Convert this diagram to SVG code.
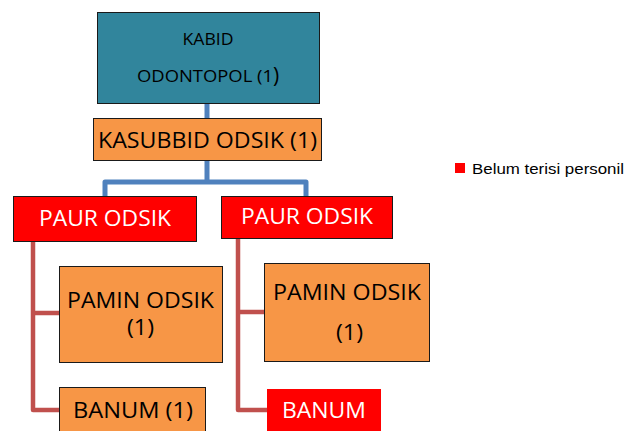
<svg xmlns="http://www.w3.org/2000/svg" width="628" height="431" viewBox="0 0 628 431">
  <style>
    .box { stroke: #1a1a1a; stroke-width: 1; }
    .teal { fill: #31859C; }
    .orange { fill: #F79646; }
    .red { fill: #FF0000; }
    .lbl { font-family: "Open Sans", "Noto Sans", sans-serif; fill: #000; }
    .wlbl { font-family: "Open Sans", "Noto Sans", sans-serif; fill: #fff; }
    .blue-link { fill: none; stroke: #4F81BD; stroke-width: 5; stroke-linejoin: round; }
    .red-link { fill: none; stroke: #C0504D; stroke-width: 4.5; stroke-linejoin: round; }
    .legend { font-family: "Liberation Sans", Arial, sans-serif; font-size: 15px; fill: #000; }
  </style>

  <!-- connectors -->
  <g id="connectors">
    <path class="blue-link" d="M207,103 V118"/>
    <path class="blue-link" d="M207,160 V182 M105,196 V182 H306 V196"/>
    <path class="red-link" d="M33,241 V410 H59 M33,313 H59"/>
    <path class="red-link" d="M238,238 V410 H267 M238,312 H264"/>
  </g>

  <g id="kabid">
    <rect class="box teal" x="97.5" y="12.5" width="222" height="91"/>
    <text class="lbl" x="208" y="45" font-size="16" text-anchor="middle" textLength="51" lengthAdjust="spacingAndGlyphs">KABID</text>
    <text class="lbl" x="137" y="82" font-size="16" textLength="136" lengthAdjust="spacingAndGlyphs">ODONTOPOL (1</text>
    <text class="lbl" x="273" y="83" font-size="21">)</text>
  </g>

  <g id="kasubbid">
    <rect class="box orange" x="93.5" y="118.5" width="228" height="42"/>
    <text class="lbl" x="98" y="148" font-size="22" textLength="219" lengthAdjust="spacingAndGlyphs">KASUBBID ODSIK (1)</text>
  </g>

  <g id="paur-left">
    <rect class="box red" x="13.5" y="196.5" width="183" height="45"/>
    <text class="wlbl" x="39" y="226" font-size="22" textLength="132" lengthAdjust="spacingAndGlyphs">PAUR ODSIK</text>
  </g>

  <g id="paur-right">
    <rect class="box red" x="221.5" y="196.5" width="171" height="42"/>
    <text class="wlbl" x="241" y="224" font-size="22" textLength="132" lengthAdjust="spacingAndGlyphs">PAUR ODSIK</text>
  </g>

  <g id="pamin-left">
    <rect class="box orange" x="59.5" y="266.5" width="163" height="96"/>
    <text class="lbl" x="67" y="308" font-size="21" textLength="147" lengthAdjust="spacingAndGlyphs">PAMIN ODSIK</text>
    <text class="lbl" x="127" y="335" font-size="21" textLength="27" lengthAdjust="spacingAndGlyphs">(1)</text>
  </g>

  <g id="pamin-right">
    <rect class="box orange" x="264.5" y="263.5" width="165" height="98"/>
    <text class="lbl" x="273" y="300" font-size="22" textLength="148" lengthAdjust="spacingAndGlyphs">PAMIN ODSIK</text>
    <text class="lbl" x="336" y="340" font-size="22" textLength="27" lengthAdjust="spacingAndGlyphs">(1)</text>
  </g>

  <g id="banum-left">
    <rect class="box orange" x="59.5" y="387.5" width="146" height="50"/>
    <text class="lbl" x="73" y="418" font-size="22" textLength="120" lengthAdjust="spacingAndGlyphs">BANUM (1)</text>
  </g>

  <g id="banum-right">
    <rect class="red" x="267" y="389" width="114" height="48"/>
    <text class="wlbl" x="282" y="418" font-size="22" textLength="84" lengthAdjust="spacingAndGlyphs">BANUM</text>
  </g>

  <g id="legend">
    <rect class="red" x="455" y="163" width="10" height="10"/>
    <text class="legend" x="472" y="174" textLength="152" lengthAdjust="spacingAndGlyphs">Belum terisi personil</text>
  </g>
</svg>
